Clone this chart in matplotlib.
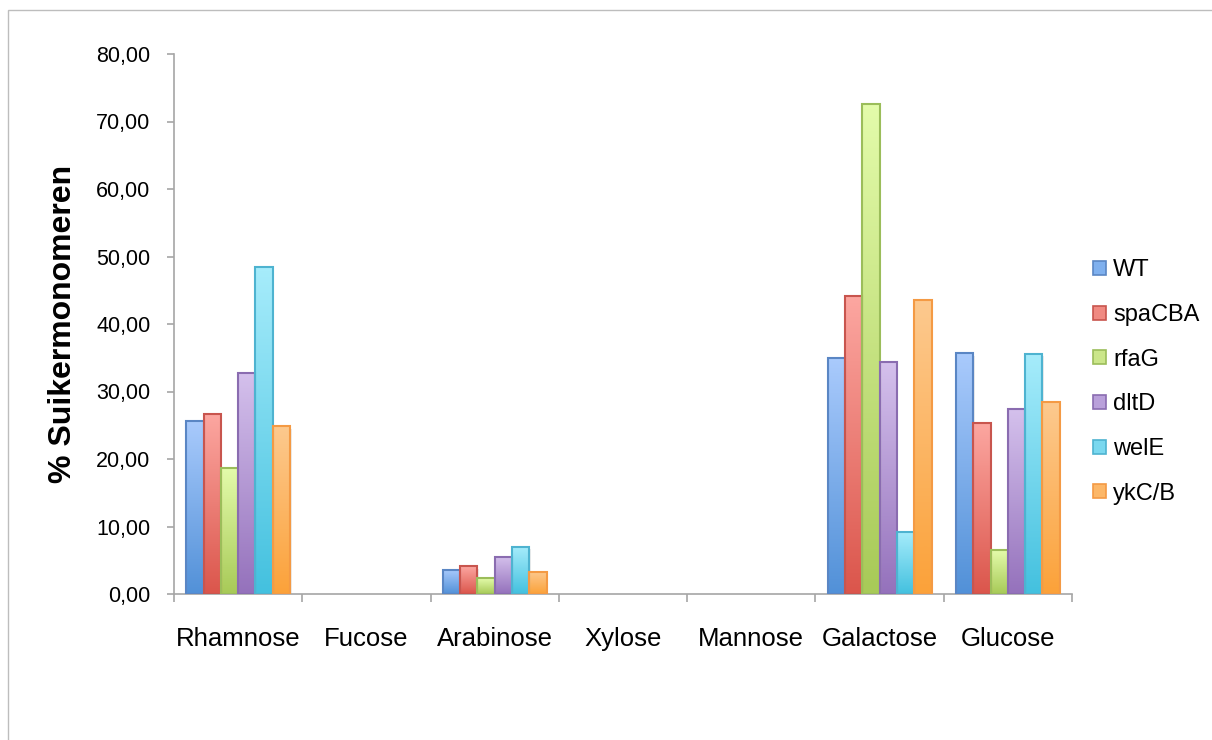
import numpy as np
import matplotlib
matplotlib.use("Agg")
import matplotlib.pyplot as plt
from matplotlib.colors import LinearSegmentedColormap
from matplotlib.patches import Rectangle, Patch
from matplotlib.ticker import FuncFormatter, MultipleLocator

plt.rcParams['font.family'] = ['Liberation Sans', 'DejaVu Sans']

sugars = ['Rhamnose', 'Fucose', 'Arabinose', 'Xylose', 'Mannose', 'Galactose', 'Glucose']
strains = ['WT', 'spaCBA', 'rfaG', 'dltD', 'welE', 'ykC/B']

wt     = [25.7, 0, 3.6, 0, 0, 34.9, 35.7]
spacba = [26.6, 0, 4.1, 0, 0, 44.1, 25.3]
rfag   = [18.6, 0, 2.3, 0, 0, 72.6, 6.5]
dltd   = [32.8, 0, 5.5, 0, 0, 34.3, 27.4]
wele   = [48.4, 0, 7.0, 0, 0, 9.2, 35.6]
ykcb   = [24.9, 0, 3.3, 0, 0, 43.5, 28.4]
series = [wt, spacba, rfag, dltd, wele, ykcb]

# light (top) / dark (bottom) gradient colours and edge colour per strain
tops = ['#a9cafc', '#fca6a0', '#e3fbaa', '#d4c0ec', '#a6ecfb', '#fdc98e']
bottoms = ['#5291d8', '#db564c', '#a8ca58', '#9572bc', '#44c1df', '#fba23a']
edges = ['#5a86c4', '#c8554e', '#9bbd5a', '#8a6cb0', '#4eb3d0', '#f49a44']

fig = plt.figure(figsize=(12.12, 7.4), dpi=100)
ax = fig.add_axes([174 / 1212, 1 - 594 / 740, 898 / 1212, 540 / 740])

# thin frame around the chart area
fig.patches.append(Rectangle((8 / 1212, -0.1), 1.1, 1.1 - 10 / 740, transform=fig.transFigure,
                             fill=False, edgecolor='#bdbdbd', linewidth=1.0))

width = 0.135
x = np.arange(len(sugars))
grad = np.linspace(0, 1, 64).reshape(-1, 1)
for j, vals in enumerate(series):
    cmap = LinearSegmentedColormap.from_list(strains[j], [bottoms[j], tops[j]])
    xs = x + (j - 2.5) * width
    vals = np.asarray(vals, dtype=float)
    keep = vals > 0
    for xi, v in zip(xs[keep], vals[keep]):
        # soft shadow to the right of each bar
        ax.add_patch(Rectangle((xi - width / 2 + 0.012, 0), width, v - 0.4,
                               facecolor='#000000', alpha=0.08, linewidth=0, zorder=1))
        ax.imshow(grad, cmap=cmap, origin='lower', aspect='auto', interpolation='bilinear',
                  extent=(xi - width / 2, xi + width / 2, 0, v), zorder=2)
    ax.bar(xs[keep], vals[keep], width=width, facecolor='none', edgecolor=edges[j],
           linewidth=1.5, zorder=3)

ax.set_xlim(-0.5, len(sugars) - 0.5)
ax.set_ylim(0, 80)

for side in ['top', 'right']:
    ax.spines[side].set_visible(False)
for side in ['left', 'bottom']:
    ax.spines[side].set_color('#a6a6a6')
    ax.spines[side].set_linewidth(1.2)

ax.yaxis.set_major_locator(MultipleLocator(10))
ax.yaxis.set_major_formatter(FuncFormatter(lambda v, p: f'{v:.2f}'.replace('.', ',')))
ax.tick_params(axis='y', length=5, width=1.2, color='#a6a6a6', pad=12, labelsize=15.5)

ax.set_xticks(x)
ax.set_xticklabels(sugars)
ax.set_xticks(np.arange(len(sugars) + 1) - 0.5, minor=True)
ax.tick_params(axis='x', which='major', length=0, pad=24, labelsize=18.5)
ax.tick_params(axis='x', which='minor', length=6, width=1.2, color='#a6a6a6', direction='out')

ax.set_ylabel('% Suikermonomeren', fontsize=23, fontweight='bold')
ax.yaxis.set_label_coords(-0.107, 0.5)

handles = [Patch(facecolor=c, edgecolor=e, linewidth=1.2) for c, e in zip(
    ['#7fb0ee', '#f08a82', '#cbe68a', '#b9a0da', '#7ad8ef', '#fcb768'], edges)]
fig.legend(handles, strains, loc='center left', bbox_to_anchor=(1072 / 1212, 1 - 382 / 740),
           frameon=False, fontsize=17, handlelength=0.55, handleheight=0.55,
           handletextpad=0.3, labelspacing=0.96)

fig.savefig('out.png', dpi=100)
